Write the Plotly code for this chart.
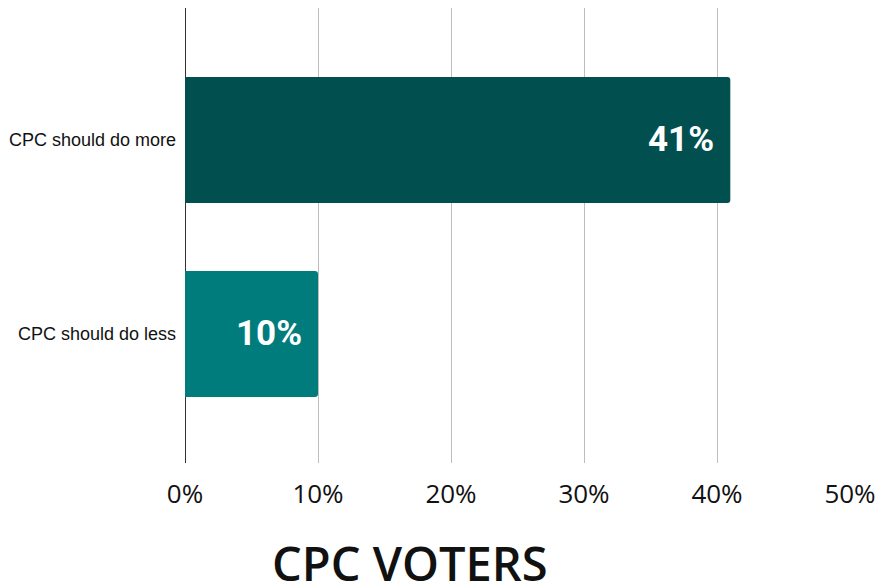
import plotly.graph_objects as go

categories = ["CPC should do less", "CPC should do more"]
values = [10, 41]
labels = ["10%", "41%"]
colors = ["#007C7C", "#014F4F"]
x_ticks = [0, 10, 20, 30, 40, 50]
x_tick_labels = ["0%", "10%", "20%", "30%", "40%", "50%"]
title_text = "CPC VOTERS"

fig = go.Figure()
fig.add_trace(go.Bar(
    y=categories, x=values, orientation="h",
    marker=dict(color=colors, line=dict(width=0), cornerradius=3),
    width=0.65, hoverinfo="skip",
))

for c, v, lab in zip(categories, values, labels):
    fig.add_annotation(x=v, y=c, text=lab, xanchor="right", yanchor="middle",
                       xshift=-14, showarrow=False,
                       font=dict(family="Roboto", size=35, color="white", weight="bold"))

fig.add_annotation(x=0.338, y=0, xref="paper", yref="paper", yshift=-100,
                   text=title_text, showarrow=False, xanchor="center", yanchor="middle",
                   font=dict(family="Open Sans", size=47, color="#111111", weight=600))

fig.update_layout(
    width=879, height=588,
    margin=dict(l=185, r=29, t=8, b=125, autoexpand=False),
    paper_bgcolor="white", plot_bgcolor="white",
    showlegend=False,
    xaxis=dict(range=[0, 50], tickvals=x_ticks, ticktext=x_tick_labels,
               showgrid=True, gridcolor="#BDBDBD", gridwidth=1,
               zeroline=True, zerolinecolor="#333333", zerolinewidth=1,
               showline=False, ticks="", ticklabelstandoff=13, automargin=False,
               tickfont=dict(family="Open Sans", size=26, color="#111111")),
    yaxis=dict(range=[-0.665, 1.68], type="category", showgrid=False,
               showline=False, ticks="", ticklabelstandoff=8, automargin=False,
               tickfont=dict(family="Liberation Sans", size=18, color="#111111")),
)

fig.write_html(
    "out.html",
    config={"displayModeBar": False},
    post_script="document.body.style.margin='0';document.documentElement.style.overflow='hidden';document.body.style.overflow='hidden';",
)
